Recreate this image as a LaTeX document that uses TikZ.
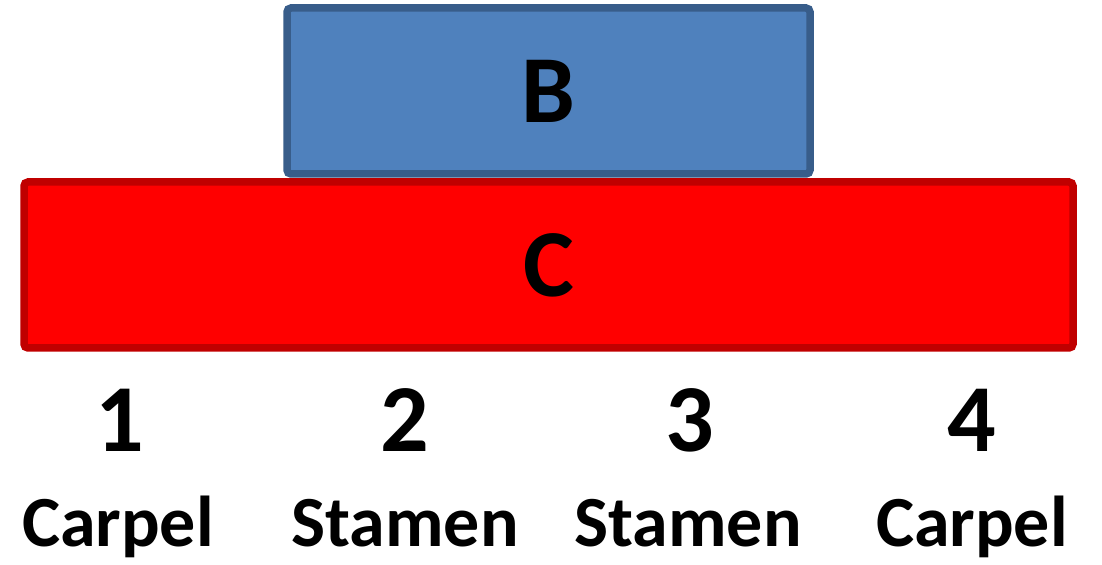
\documentclass[tikz,border=0pt]{standalone}
\usepackage{fontspec}
\setmainfont{Carlito}
\usepackage{xcolor}
\usepackage{tikz}
\usetikzlibrary{positioning}
\definecolor{BFill}{HTML}{4F81BD}
\definecolor{BLine}{HTML}{385D8A}
\definecolor{CFill}{HTML}{FF0000}
\definecolor{CLine}{HTML}{C00000}

\begin{document}
\begin{tikzpicture}[
  x=0.5pt, y=-0.5pt,
  every node/.style={inner sep=0pt, outer sep=0pt},
  band/.style={rectangle, rounded corners=2pt, line width=3.75pt,
               minimum height=83pt, font=\fontsize{48}{50}\selectfont\bfseries},
  num/.style={anchor=base, font=\fontsize{48}{50}\selectfont\bfseries},
  organ/.style={anchor=base, font=\fontsize{36}{40}\selectfont\bfseries},
]
\useasboundingbox (0,0) rectangle (1102,565);

%% ─ Gene bands ───────────────────────────────────────────────────────────────
\node[band, draw=BLine, fill=BFill, minimum width=261.5pt] (classB) at (548.5, 91) {B};
\node[band, draw=CLine, fill=CFill, minimum width=524.5pt] (classC) at (548.5,265) {C};

%% ─ Whorl numbers ────────────────────────────────────────────────────────────
\node[num] (w1) at (120,452) {1};
\node[num] (w2) at (405,452) {2};
\node[num] (w3) at (690,452) {3};
\node[num] (w4) at (972,452) {4};

%% ─ Organ names ──────────────────────────────────────────────────────────────
\node[organ] (o1) at (118,547) {Carpel};
\node[organ] (o2) at (405,547) {Stamen};
\node[organ] (o3) at (688,547) {Stamen};
\node[organ] (o4) at (972,547) {Carpel};

\end{tikzpicture}
\end{document}
